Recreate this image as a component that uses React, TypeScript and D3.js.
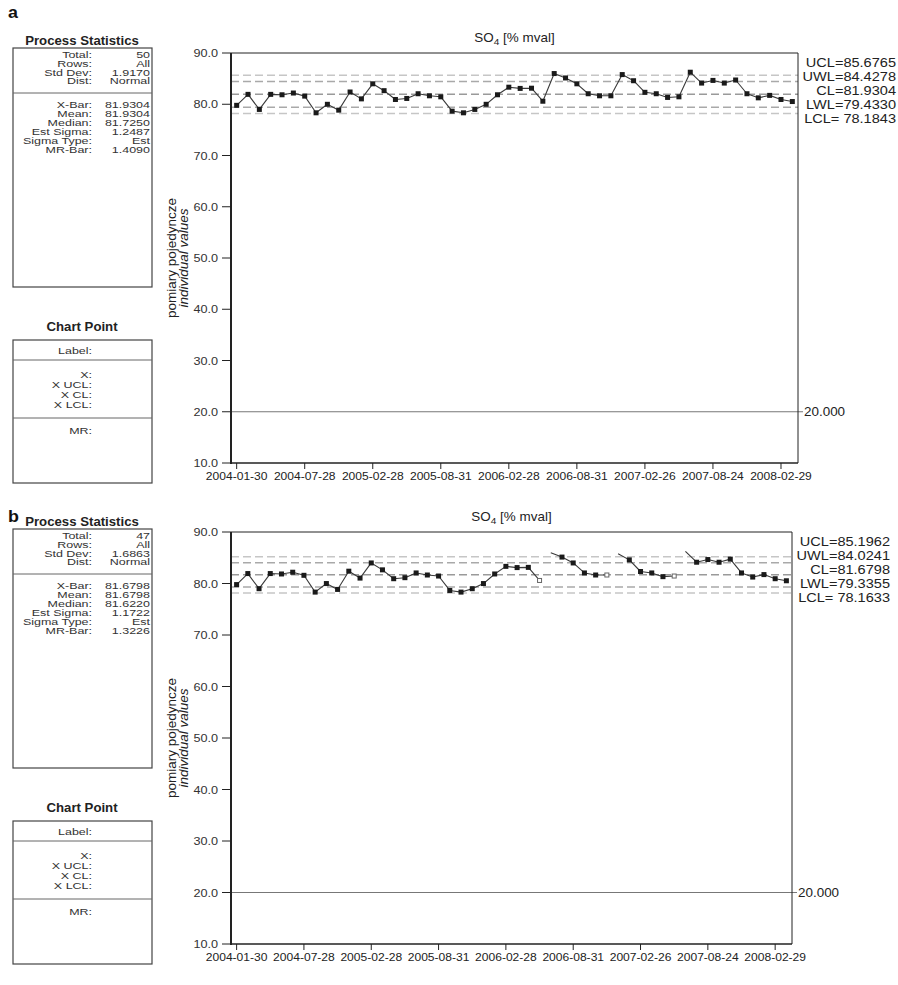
import * as d3 from "d3";

const tickDates = [
  "2004-01-30", "2004-07-28", "2005-02-28", "2005-08-31", "2006-02-28",
  "2006-08-31", "2007-02-26", "2007-08-24", "2008-02-29",
];
const yTicks = [10, 20, 30, 40, 50, 60, 70, 80, 90];

// individual SO4 values, panel a (panel b = same series with 3 points excluded)
const values = [
  79.79, 81.93, 78.99, 81.93, 81.85, 82.19, 81.59, 78.33, 79.99, 78.85,
  82.39, 81.05, 83.99, 82.65, 80.93, 81.13, 82.05, 81.65, 81.45, 78.65,
  78.33, 78.99, 79.99, 81.85, 83.33, 83.09, 83.13, 80.59, 85.99, 85.13,
  83.99, 82.05, 81.65, 81.65, 85.79, 84.59, 82.33, 82.05, 81.33, 81.45,
  86.25, 84.13, 84.65, 84.13, 84.73, 82.05, 81.25, 81.73, 80.93, 80.53,
];
const excludedB = [28, 34, 40];

const statNames1 = ["Total:", "Rows:", "Std Dev:", "Dist:"];
const statNames2 = ["X-Bar:", "Mean:", "Median:", "Est Sigma:", "Sigma Type:", "MR-Bar:"];
const statsA1 = ["50", "All", "1.9170", "Normal"];
const statsA2 = ["81.9304", "81.9304", "81.7250", "1.2487", "Est", "1.4090"];
const statsB1 = ["47", "All", "1.6863", "Normal"];
const statsB2 = ["81.6798", "81.6798", "81.6220", "1.1722", "Est", "1.3226"];

const limitNames = ["UCL", "UWL", "CL", "LWL", "LCL"];
const limitsA = [85.6765, 84.4278, 81.9304, 79.433, 78.1843];
const limitsB = [85.1962, 84.0241, 81.6798, 79.3355, 78.1633];
const limitColors = ["#c6c6c6", "#a9a9a9", "#9a9a9a", "#a9a9a9", "#c6c6c6"];

const pointNames = ["X:", "X UCL:", "X CL:", "X LCL:"];

const FONT = "Liberation Sans, Arial, sans-serif";

const T = ({ x, y, size = 9.6, sx = 1.3, anchor = "start", weight = "normal", fill = "#333", children }: any) => (
  <text
    transform={`translate(${x},${y}) scale(${sx},1)`}
    textAnchor={anchor}
    fontSize={size}
    fontWeight={weight}
    fill={fill}
  >
    {children}
  </text>
);

type PanelProps = {
  dy: number;
  letterY: number;
  letter: string;
  s1: string[];
  s2: string[];
  limits: number[];
  excluded: number[];
  right: number;
  yTop: number;
  yBottom: number;
};

const Panel = ({ dy, letterY, letter, s1, s2, limits, excluded, right, yTop, yBottom }: PanelProps) => {
  const left = 231;
  const x = d3.scalePoint<number>().domain(d3.range(values.length)).range([left, right]).padding(0.5);
  const y = d3.scaleLinear().domain([10, 90]).range([yBottom, yTop]);

  const segs: string[] = [];
  for (let i = 1; i < values.length; i++) {
    if (excluded.includes(i)) continue;
    segs.push(`M${x(i - 1)},${y(values[i - 1])}L${x(i)},${y(values[i])}`);
  }

  const midY = (yTop + yBottom) / 2;

  return (
    <g>
      {/* left side panels */}
      <T x={8} y={letterY} size={17} sx={1.05} weight="bold" fill="#111">{letter}</T>
      <T x={82} y={dy + 45} size={12} sx={1.1} anchor="middle" weight="bold" fill="#222">Process Statistics</T>
      <rect x={13} y={dy + 48} width={139} height={239} fill="none" stroke="#444" strokeWidth={1.2} />
      <line x1={13} x2={152} y1={dy + 93} y2={dy + 93} stroke="#666" />
      {statNames1.map((n, i) => (
        <g key={n}>
          <T x={92} y={dy + 58 + i * 8.8} anchor="end">{n}</T>
          <T x={150} y={dy + 58 + i * 8.8} anchor="end">{s1[i]}</T>
        </g>
      ))}
      {statNames2.map((n, i) => (
        <g key={n}>
          <T x={92} y={dy + 108 + i * 9} anchor="end">{n}</T>
          <T x={150} y={dy + 108 + i * 9} anchor="end">{s2[i]}</T>
        </g>
      ))}

      <T x={82} y={dy + 331} size={12} sx={1.1} anchor="middle" weight="bold" fill="#222">Chart Point</T>
      <rect x={13} y={dy + 340} width={139} height={143} fill="none" stroke="#444" strokeWidth={1.2} />
      <line x1={13} x2={152} y1={dy + 360} y2={dy + 360} stroke="#666" />
      <line x1={13} x2={152} y1={dy + 418} y2={dy + 418} stroke="#666" />
      <T x={92} y={dy + 354} anchor="end">Label:</T>
      {pointNames.map((n, i) => (
        <T key={n} x={92} y={dy + 378 + i * 10} anchor="end">{n}</T>
      ))}
      <T x={92} y={dy + 434} anchor="end">MR:</T>

      {/* axis titles */}
      <text transform={`translate(176,${midY}) rotate(-90)`} textAnchor="middle" fontSize={13.5} fill="#222">
        pomiary pojedyncze
      </text>
      <text transform={`translate(188,${midY}) rotate(-90)`} textAnchor="middle" fontSize={13.5} fontStyle="italic" fill="#222">
        individual values
      </text>
      <T x={(left + right) / 2} y={yTop - 11} size={12} sx={1.12} anchor="middle" fill="#222">
        SO<tspan fontSize={9} dy={3}>4</tspan>
        <tspan dy={-3}> [% mval]</tspan>
      </T>

      {/* control limits */}
      {limits.map((v, i) => (
        <line key={i} x1={left} x2={right} y1={y(v)} y2={y(v)} stroke={limitColors[i]} strokeWidth={1.5} strokeDasharray="8,4" />
      ))}
      <line x1={left} x2={right + 5} y1={y(20)} y2={y(20)} stroke="#777" strokeWidth={1} />
      <T x={right + 6} y={y(20) + 4.5} size={12} sx={1.12} fill="#222">20.000</T>

      {limitNames.map((n, i) => (
        <T key={n} x={right + 98} y={yTop + 14 + i * 14} size={13} sx={1.12} anchor="end" fill="#222">
          {`${n}=${n === "LCL" ? " " : ""}${limits[i].toFixed(4)}`}
        </T>
      ))}

      {/* frame */}
      <line x1={left} x2={right} y1={yTop} y2={yTop} stroke="#222" strokeWidth={1} />
      <line x1={right} x2={right} y1={yTop} y2={yBottom} stroke="#222" strokeWidth={1} />
      <line x1={left} x2={left} y1={yTop} y2={yBottom + 1} stroke="#222" strokeWidth={2} />
      <line x1={left} x2={right} y1={yBottom} y2={yBottom} stroke="#222" strokeWidth={1.5} />

      {yTicks.map((t) => (
        <g key={t}>
          <line x1={left - 9} x2={left} y1={y(t)} y2={y(t)} stroke="#222" />
          <T x={left - 13} y={y(t) + 4} size={11} sx={1.15} anchor="end" fill="#333">{t.toFixed(1)}</T>
        </g>
      ))}
      {tickDates.map((d, i) => {
        const px = x(i * 6) as number;
        return (
          <g key={d}>
            <line x1={px} x2={px} y1={yBottom} y2={yBottom + 6} stroke="#222" />
            <T x={px} y={yBottom + 17} size={10.5} sx={1.15} anchor="middle" fill="#222">{d}</T>
          </g>
        );
      })}

      {/* series */}
      <path d={segs.join("")} fill="none" stroke="#3a3a3a" strokeWidth={1.1} />
      {values.map((v, i) => {
        if (excluded.includes(i)) return null;
        const cx = x(i) as number;
        const cy = y(v);
        if (excluded.includes(i + 1)) {
          return <rect key={i} x={cx - 2} y={cy - 2} width={4} height={4} fill="#fff" stroke="#666" strokeWidth={1} />;
        }
        return <rect key={i} x={cx - 2.5} y={cy - 2.5} width={5} height={5} fill="#1a1a1a" />;
      })}
    </g>
  );
};

export default function App() {
  return (
    <svg
      width={898}
      height={985}
      style={{ position: "absolute", left: 0, top: 0, background: "#fff" }}
      fontFamily={FONT}
    >
      <rect width={898} height={985} fill="#fff" />
      <Panel dy={0} letterY={18} letter="a" s1={statsA1} s2={statsA2} limits={limitsA} excluded={[]} right={798} yTop={53} yBottom={463} />
      <Panel dy={481} letterY={522} letter="b" s1={statsB1} s2={statsB2} limits={limitsB} excluded={excludedB} right={792} yTop={532} yBottom={944} />
    </svg>
  );
}
